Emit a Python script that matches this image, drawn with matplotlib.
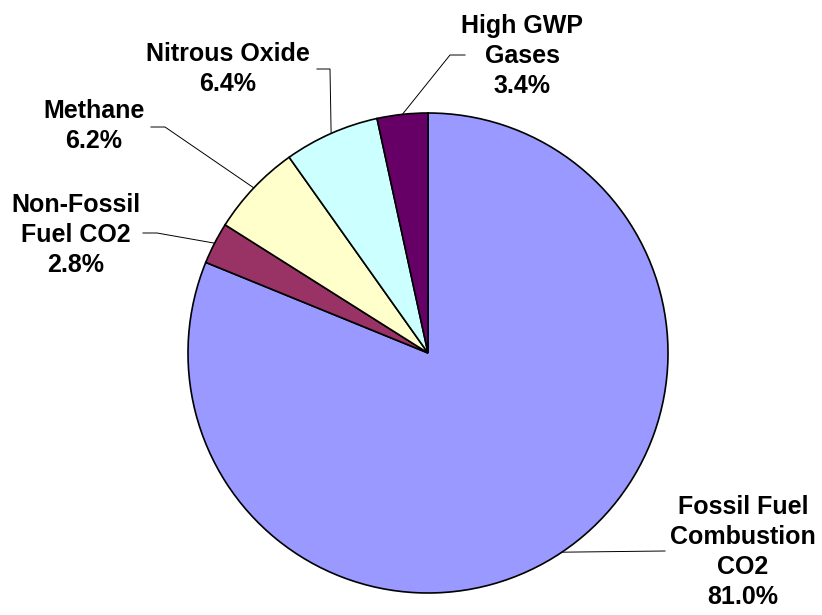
import numpy as np
import matplotlib.pyplot as plt

labels = ['Fossil Fuel\nCombustion\nCO2', 'Non-Fossil\nFuel CO2', 'Methane',
          'Nitrous Oxide', 'High GWP\nGases']
shares = [81.0, 2.8, 6.2, 6.4, 3.4]
colors = ['#9999FF', '#993366', '#FFFFCC', '#CCFFFF', '#660066']

W, H = 822, 615
cx, cy, r = 428, H - 353, 240

# label centres and leader elbows, in pixel coords from the top-left
label_pos = [(743, 552), (76, 235), (94, 126), (228, 69), (522, 56)]
elbows = [[(665, 551)],
          [(157, 233), (143, 233)],
          [(165, 127), (151, 127)],
          [(330, 69), (317, 69)],
          [(450, 55), (465, 55)]]

fig = plt.figure(figsize=(W / 100, H / 100), dpi=100)
ax = fig.add_axes([0, 0, 1, 1])

wedges, _ = ax.pie(shares, colors=colors, startangle=90, counterclock=False,
                   center=(cx, cy), radius=r,
                   wedgeprops=dict(edgecolor='black', linewidth=1.2))
# pie() resets the limits, so set them afterwards
ax.set_xlim(0, W)
ax.set_ylim(0, H)
ax.set_aspect('equal')
ax.axis('off')

for w, lab, val, pos, pts in zip(wedges, labels, shares, label_pos, elbows):
    mid = np.deg2rad((w.theta1 + w.theta2) / 2)
    x0 = cx + r * np.cos(mid)
    y0 = cy + r * np.sin(mid)
    xs = [x0] + [p[0] for p in pts]
    ys = [y0] + [H - p[1] for p in pts]
    ax.plot(xs, ys, color='black', linewidth=0.7)
    ax.text(pos[0], H - pos[1], f'{lab}\n{val:.1f}%', ha='center', va='center',
            fontsize=18, fontweight='bold', family='Liberation Sans',
            linespacing=1.3)

fig.savefig('out.png', dpi=100)
